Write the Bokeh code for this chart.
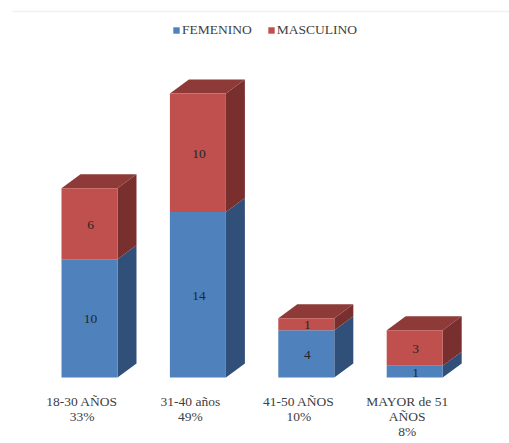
from bokeh.core.properties import value
from bokeh.embed import file_html
from bokeh.models import ColumnDataSource, Legend, LegendItem
from bokeh.plotting import figure
from bokeh.resources import INLINE

# Survey counts per age bracket
categories = ["18-30 AÑOS", "31-40 años", "41-50 AÑOS", "MAYOR de 51 AÑOS"]
category_lines = [["18-30 AÑOS", "33%"], ["31-40 años", "49%"], ["41-50 AÑOS", "10%"],
                  ["MAYOR de 51", "AÑOS", "8%"]]
femenino = [10, 14, 4, 1]
masculino = [6, 10, 1, 3]

W, H = 509, 443
X0, X_STEP = 89, 108.4        # pixel centre of the first column, column spacing
BASE, Y_UNIT = 377, 11.83     # pixel row of zero, pixels per count
BAR_PX, DX_PX, DY_PX = 56, 19, 14
bar_w = BAR_PX / X_STEP
dx = DX_PX / X_STEP           # oblique depth of the 3D columns, in data units
dy = DY_PX / Y_UNIT

BLUE = dict(front="#4f81bd", side="#30507a", top="#3d6595")
RED = dict(front="#c0504d", side="#782f2e", top="#8d3a38")
FONT = value("Liberation Serif")

p = figure(width=W, height=H, output_backend="svg", toolbar_location=None, min_border=0,
           x_range=(-X0 / X_STEP, (W - X0) / X_STEP),
           y_range=(-(H - BASE) / Y_UNIT, BASE / Y_UNIT))
p.axis.visible = False
p.grid.visible = False
p.outline_line_color = None
p.background_fill_color = "white"

# Thin rule above the legend
rule_y = (BASE - 11) / Y_UNIT
p.line([(12 - X0) / X_STEP, (W - X0) / X_STEP], [rule_y, rule_y], line_color="#f0f0f0", line_width=1.5)

# Side and top faces of each stacked segment
for i, (f, m) in enumerate(zip(femenino, masculino)):
    r = i + bar_w / 2
    l = i - bar_w / 2
    total = f + m
    p.patch([r, r + dx, r + dx, r], [0, dy, f + dy, f], color=BLUE["side"], line_color=None)
    p.patch([r, r + dx, r + dx, r], [f, f + dy, total + dy, total], color=RED["side"], line_color=None)
    p.patch([l, r, r + dx, l + dx], [total, total, total + dy, total + dy], color=RED["top"], line_color=None)

# Front faces
xs = list(range(len(categories)))
tops = [f + m for f, m in zip(femenino, masculino)]
bars_f = p.vbar(x=xs, bottom=0, top=femenino, width=bar_w, color=BLUE["front"], line_color=None)
bars_m = p.vbar(x=xs, bottom=femenino, top=tops, width=bar_w, color=RED["front"], line_color=None)

# Values centred on each front face
label_x = xs + xs
label_y = [f / 2 for f in femenino] + [f + m / 2 for f, m in zip(femenino, masculino)]
label_t = [str(v) for v in femenino + masculino]
p.text(x=label_x, y=label_y, text=label_t, x_offset=1, y_offset=1, text_font=FONT, text_font_size="13.5px",
       text_color="#262626", text_align="center", text_baseline="middle")

# Category captions with their share, one row per line
cap_src = dict(x=[], y=[], t=[])
for i, lines in enumerate(category_lines):
    for j, line in enumerate(lines):
        cap_src["x"].append(i - 7.5 / X_STEP)
        cap_src["y"].append(-(24 + j * 15) / Y_UNIT)
        cap_src["t"].append(line)
p.text(x="x", y="y", text="t", source=ColumnDataSource(cap_src), text_font=FONT,
       text_font_size="13.5px", text_color="#404040", text_align="center", text_baseline="middle")

legend = Legend(items=[LegendItem(label="FEMENINO", renderers=[bars_f]),
                       LegendItem(label="MASCULINO", renderers=[bars_m])],
                orientation="horizontal", location=(172, H - 38), margin=0, padding=0, spacing=15,
                glyph_width=8, glyph_height=8, label_standoff=2, label_height=14,
                label_text_font="Liberation Serif", label_text_font_size="13.5px",
                label_text_color="#404040", border_line_color=None, background_fill_alpha=0)
p.add_layout(legend, "center")

open("out.html", "w").write(file_html(p, INLINE))
